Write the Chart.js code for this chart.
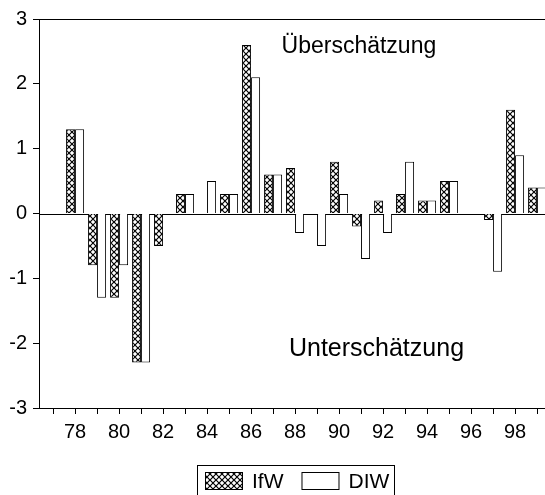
<!DOCTYPE html>
<html>
<head>
<meta charset="utf-8">
<script src="https://cdn.jsdelivr.net/npm/chart.js@4"></script>
<style>
  html, body { margin: 0; padding: 0; background: #fff; overflow: hidden; }
  #wrap { width: 545px; height: 495px; position: relative; }
</style>
</head>
<body>
<div id="wrap"><canvas id="chart"></canvas></div>
<script>
// Prognosefehler je Jahr
const years = [77, 78, 79, 80, 81, 82, 83, 84, 85, 86, 87, 88, 89, 90, 91, 92, 93, 94, 95, 96, 97, 98, 99];
const ifw = [null, 1.3, -0.8, -1.3, -2.3, -0.5, 0.3, 0, 0.3, 2.6, 0.6, 0.7, 0, 0.8, -0.2, 0.2, 0.3, 0.2, 0.5, 0, -0.1, 1.6, 0.4];
const diw = [null, 1.3, -1.3, -0.8, -2.3, 0, 0.3, 0.5, 0.3, 2.1, 0.6, -0.3, -0.5, 0.3, -0.7, -0.3, 0.8, 0.2, 0.5, 0, -0.9, 0.9, 0.4];
const yTicks = [-3, -2, -1, 0, 1, 2, 3];
const notes = [
    { text: 'Überschätzung', x: 90.9, y: 2.47, size: 23 },
    { text: 'Unterschätzung', x: 91.7, y: -2.2, size: 25 }
];

Chart.defaults.font.family = '"Liberation Sans", Arial, sans-serif';
Chart.defaults.color = '#000';

function makeHatch() {
    const c = document.createElement('canvas');
    c.width = 6; c.height = 6;
    const g = c.getContext('2d');
    g.fillStyle = '#fff';
    g.fillRect(0, 0, 6, 6);
    g.strokeStyle = '#000';
    g.lineWidth = 1.2;
    g.beginPath();
    g.moveTo(0, 0); g.lineTo(6, 6);
    g.moveTo(6, 0); g.lineTo(0, 6);
    g.stroke();
    return g.createPattern(c, 'repeat');
}
const hatch = makeHatch();

// zero line + top frame
const framePlugin = {
    id: 'frame',
    beforeDatasetsDraw(chart) {
        const ctx = chart.ctx, a = chart.chartArea;
        const y0 = Math.round(chart.scales.y.getPixelForValue(0)) + 0.5;
        ctx.save();
        ctx.strokeStyle = '#000';
        ctx.lineWidth = 1;
        ctx.beginPath();
        ctx.moveTo(a.left, y0); ctx.lineTo(a.right, y0);
        ctx.moveTo(a.left, a.top + 0.5); ctx.lineTo(a.right, a.top + 0.5);
        ctx.stroke();
        ctx.restore();
    }
};

// text labels + boxed legend
const textPlugin = {
    id: 'texts',
    afterDraw(chart) {
        const ctx = chart.ctx;
        const xs = chart.scales.x, ys = chart.scales.y;
        ctx.save();
        ctx.fillStyle = '#000';
        ctx.textAlign = 'center';
        ctx.textBaseline = 'alphabetic';
        notes.forEach(function (n) {
            ctx.font = n.size + 'px "Liberation Sans", Arial, sans-serif';
            ctx.fillText(n.text, xs.getPixelForValue(n.x), ys.getPixelForValue(n.y));
        });

        // legend
        ctx.strokeStyle = '#000';
        ctx.lineWidth = 1;
        ctx.strokeRect(197.5, 465.5, 197, 40);
        ctx.font = '21px "Liberation Sans", Arial, sans-serif';
        ctx.textAlign = 'left';
        ctx.textBaseline = 'middle';
        let x = 205;
        chart.data.datasets.forEach(function (ds) {
            ctx.fillStyle = ds.backgroundColor;
            ctx.fillRect(x, 472, 38, 18);
            ctx.strokeRect(x + 0.5, 472.5, 37, 17);
            ctx.fillStyle = '#000';
            ctx.fillText(ds.label, x + 47, 482);
            x += 48 + ctx.measureText(ds.label).width + 17;
        });
        ctx.restore();
    }
};

new Chart(document.getElementById('chart'), {
    type: 'bar',
    data: {
        labels: years,
        datasets: [
            { label: 'IfW', data: ifw, backgroundColor: hatch, borderColor: '#000', borderWidth: 1 },
            { label: 'DIW', data: diw, backgroundColor: '#fff', borderColor: '#000', borderWidth: 1 }
        ]
    },
    options: {
        responsive: true,
        maintainAspectRatio: false,
        animation: false,
        devicePixelRatio: 1,
        categoryPercentage: 0.82,
        barPercentage: 1,
        layout: { padding: { top: 19, right: 0, left: 0, bottom: 47 } },
        plugins: {
            legend: { display: false },
            tooltip: { enabled: false }
        },
        scales: {
            x: {
                type: 'linear',
                min: 76.36,
                max: 99.36,
                offset: false,
                afterBuildTicks: function (scale) {
                    scale.ticks = years.map(function (v) { return { value: v }; });
                },
                afterFit: function (scale) { scale.height = 40; },
                ticks: {
                    autoSkip: false,
                    maxRotation: 0,
                    padding: 6,
                    font: { size: 20 },
                    callback: function (v) { return (v % 2 === 0 && v >= 78 && v <= 98) ? String(v) : ''; }
                },
                grid: { drawOnChartArea: false, offset: false, tickLength: 6, color: '#000' },
                border: { display: true, color: '#000', width: 1 }
            },
            y: {
                min: -3,
                max: 3,
                afterBuildTicks: function (scale) {
                    scale.ticks = yTicks.map(function (v) { return { value: v }; });
                },
                afterFit: function (scale) { scale.width = 39; },
                ticks: { padding: 6, font: { size: 20 } },
                grid: { drawOnChartArea: false, tickLength: 6, color: '#000' },
                border: { display: true, color: '#000', width: 1 }
            }
        }
    },
    plugins: [framePlugin, textPlugin]
});
</script>
</body>
</html>
